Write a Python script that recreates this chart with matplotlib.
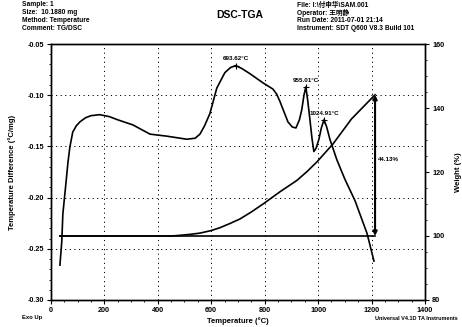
import matplotlib
matplotlib.use("Agg")
import matplotlib.pyplot as plt

plt.rcParams['font.family'] = ['Liberation Sans', 'Noto Sans CJK SC', 'DejaVu Sans']

# DSC curve (left axis)
dsc_temp = [34, 41, 45, 55, 64, 71, 82, 95, 109, 130, 150, 183, 220, 250, 307, 371, 434,
            509, 540, 558, 575, 595, 621, 651, 672, 692, 715, 745, 794, 831, 845, 857,
            872, 887, 903, 917, 930, 939, 947, 954, 961, 969, 977, 984, 992, 1003, 1012,
            1022, 1032, 1044, 1070, 1100, 1138, 1183, 1209]
dsc_val = [-0.266, -0.243, -0.216, -0.19, -0.166, -0.151, -0.136, -0.130, -0.126, -0.122,
           -0.120, -0.119, -0.121, -0.124, -0.129, -0.138, -0.140, -0.143, -0.142, -0.138,
           -0.130, -0.118, -0.093, -0.078, -0.073, -0.071, -0.074, -0.079, -0.088, -0.094,
           -0.099, -0.106, -0.116, -0.126, -0.131, -0.132, -0.124, -0.114, -0.100, -0.092,
           -0.105, -0.123, -0.142, -0.155, -0.152, -0.143, -0.132, -0.124, -0.131, -0.143,
           -0.163, -0.182, -0.203, -0.235, -0.262]

# TGA curve (right axis)
tga_temp = [34, 300, 450, 482, 520, 558, 600, 633, 670, 707, 750, 794, 857, 921, 958, 996,
            1056, 1125, 1213]
tga_val = [100, 100, 100, 100.2, 100.5, 100.9, 101.7, 102.6, 103.9, 105.3, 107.5, 110,
           113.8, 117.4, 120.1, 123.2, 128.8, 136.6, 144.13]

peak_temps = [692, 954, 1022]
peak_vals = [-0.071, -0.092, -0.124]
peak_labels = ["693.62°C", "955.01°C", "1024.91°C"]

step_temp = 1213
step_low, step_high = 100, 144.13
step_label = "44.13%"

x_ticks = [0, 200, 400, 600, 800, 1000, 1200, 1400]
y_ticks = [-0.05, -0.10, -0.15, -0.20, -0.25, -0.30]
y2_ticks = [80, 100, 120, 140, 160]

fig = plt.figure(figsize=(4.62, 3.27), dpi=100)
ax = fig.add_axes([0.110, 0.0826, 0.810, 0.7828])
ax2 = ax.twinx()

fs = 5.2
ax.plot(dsc_temp, dsc_val, color='black', lw=1.2)
ax.set_xlim(0, 1400)
ax.set_ylim(-0.30, -0.05)
ax.set_xticks(x_ticks)
ax.set_xticklabels([str(t) for t in x_ticks], fontsize=fs, fontweight='bold')
ax.set_yticks(y_ticks)
ax.set_yticklabels([f"{t:.2f}" for t in y_ticks], fontsize=fs, fontweight='bold')
ax.set_xticks(range(0, 1401, 50), minor=True)
ax.set_yticks([-0.30 + 0.01 * i for i in range(26)], minor=True)
ax.tick_params(which='major', length=3, width=0.8, pad=2)
ax.tick_params(which='minor', length=1.5, width=0.6)
ax.grid(True, which='major', linestyle=(0, (1.2, 3.5)), color='black', lw=0.7)
ax.set_xlabel("Temperature (°C)", fontsize=5.5, fontweight='bold', labelpad=2)
ax.set_ylabel("Temperature Difference (°C/mg)", fontsize=5.5, fontweight='bold', labelpad=8)

ax2.plot(tga_temp, tga_val, color='black', lw=1.2)
ax2.plot([tga_temp[0], step_temp], [step_low, step_low], color='black', lw=1.2)
ax2.annotate("", xy=(step_temp, step_high), xytext=(step_temp, step_low),
             arrowprops=dict(arrowstyle='<|-|>', color='black', lw=1.5,
                             mutation_scale=6, shrinkA=0, shrinkB=0))
ax2.text(step_temp + 12, 124, step_label, fontsize=4.5, fontweight='bold', va='center')
ax2.set_ylim(80, 160)
ax2.set_yticks(y2_ticks)
ax2.set_yticklabels([str(t) for t in y2_ticks], fontsize=fs, fontweight='bold')
ax2.set_yticks(range(80, 161, 5), minor=True)
ax2.tick_params(which='major', length=3, width=0.8, pad=2)
ax2.tick_params(which='minor', length=1.5, width=0.6)
ax2.set_ylabel("Weight (%)", fontsize=5.5, fontweight='bold', labelpad=8)

for t, v, lab in zip(peak_temps, peak_vals, peak_labels):
    ax.plot([t], [v], marker='+', color='black', ms=5, mew=0.8)
    ax.text(t, v + 0.004, lab, fontsize=4.5, fontweight='bold', ha='center', va='bottom')

for s in list(ax.spines.values()) + list(ax2.spines.values()):
    s.set_linewidth(1.0)

# Header texts
hdr_l = ["Sample: 1", "Size:  10.1880 mg", "Method: Temperature", "Comment: TG/DSC"]
hdr_r = ["File: I:\\付申华\\SAM.001", "Operator: 王明静", "Run Date: 2011-07-01 21:14",
         "Instrument: SDT Q600 V8.3 Build 101"]
for i, s in enumerate(hdr_l):
    fig.text(22 / 462, 1 - (5 + 8 * i) / 327, s, fontsize=4.8, fontweight='bold', va='center')
for i, s in enumerate(hdr_r):
    fig.text(297 / 462, 1 - (5 + 8 * i) / 327, s, fontsize=4.8, fontweight='bold', va='center')
fig.text(240 / 462, 1 - 15 / 327, "DSC-TGA", fontsize=7.5, fontweight='bold', ha='center', va='center')
fig.text(22 / 462, 1 - 318 / 327, "Exo Up", fontsize=4.2, fontweight='bold', va='center')
fig.text(458 / 462, 1 - 318 / 327, "Universal V4.1D TA Instruments", fontsize=4.0,
         fontweight='bold', ha='right', va='center')

fig.savefig("out.png", dpi=100)
